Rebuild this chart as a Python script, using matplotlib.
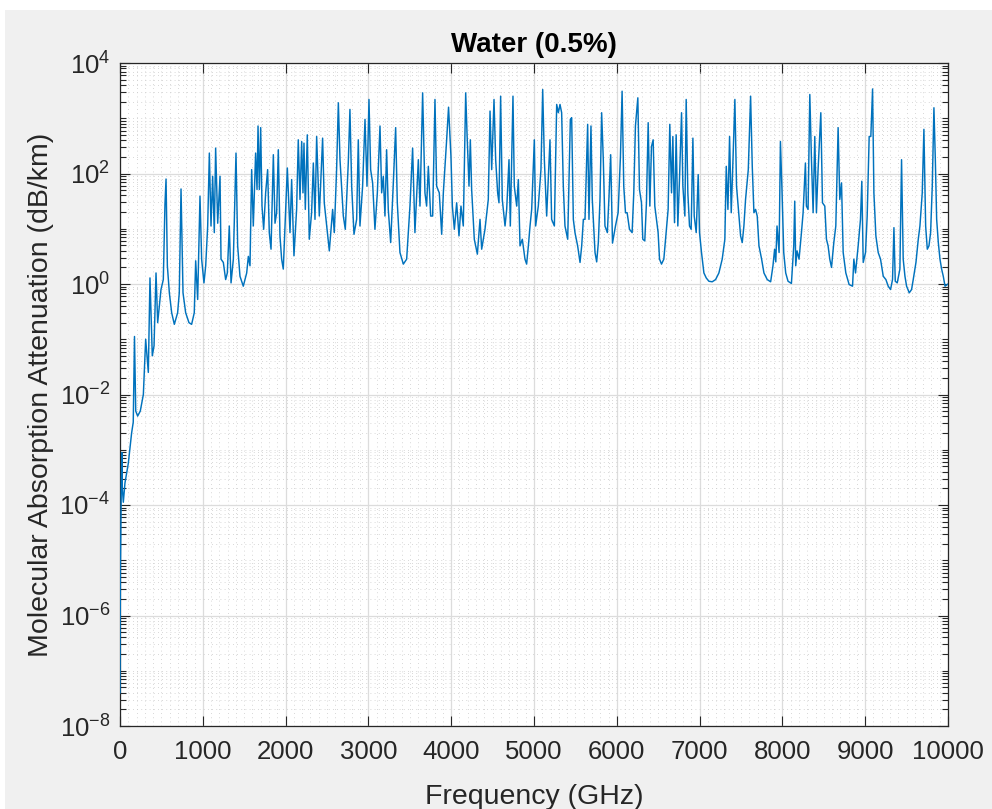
import numpy as np
import matplotlib
matplotlib.use("Agg")
import matplotlib.pyplot as plt
from matplotlib.ticker import FixedLocator, MultipleLocator, NullFormatter, FuncFormatter
from matplotlib.patches import Rectangle

# ---------------- data ----------------
spectrum = [
    (0.5, -7.4), (2, -6.3), (5, -5.2), (10, -4.4), (16, -3.6), (22, -3.05), (28, -3.7), (40, -3.95),
    (60, -3.6), (100, -3.25), (140, -2.7), (160, -2.5), (175, -0.95), (190, -2.3), (213, -2.39),
    (245, -2.3), (282, -2.0), (310, -1.0), (342, -1.6), (362, 0.11), (390, -1.3), (411, -1.12),
    (435, 0.2), (455, -0.7), (475, -0.4), (495, -0.1), (523, 0.08), (543, 1.44), (556, 1.9),
    (572, 0.33), (596, -0.16), (624, -0.52), (656, -0.73), (696, -0.52), (716, -0.16), (737, 1.72),
    (761, -0.16), (793, -0.52), (833, -0.7), (865, -0.73), (897, -0.52), (914, 0.42), (938, -0.28),
    (966, 1.59), (986, 0.45), (1014, 0.02), (1035, 0.33), (1059, 1.05), (1079, 2.37), (1099, 1.05),
    (1119, 1.95), (1139, 0.93), (1155, 2.46), (1180, 1.1), (1208, 1.95), (1220, 0.45), (1248, 0.39),
    (1276, 0.08), (1296, 0.2), (1320, 1.05), (1341, 0.02), (1369, 0.45), (1401, 2.37), (1421, 0.69),
    (1449, 0.14), (1489, -0.04), (1530, 0.2), (1550, 0.5), (1570, 0.33), (1590, 2.07), (1610, 1.05),
    (1638, 2.37), (1655, 1.71), (1667, 2.86), (1683, 1.71), (1699, 2.83), (1715, 1.41), (1735, 0.99),
    (1759, 1.65), (1783, 2.07), (1803, 0.93), (1824, 0.63), (1852, 2.34), (1872, 1.1), (1892, 1.29),
    (1912, 2.43), (1932, 0.87), (1952, 0.45), (1972, 0.27),
    (2021, 2.1), (2053, 0.93), (2073, 1.89), (2101, 0.51), (2133, 1.35), (2153, 2.61), (2174, 1.53),
    (2194, 2.58), (2210, 1.65), (2222, 2.55), (2238, 1.35), (2262, 2.7), (2286, 0.81), (2314, 1.29),
    (2335, 2.19), (2355, 1.17), (2375, 2.67), (2407, 1.23), (2447, 2.64), (2467, 1.47), (2496, 1.05),
    (2528, 0.6), (2568, 1.35), (2588, 0.93), (2616, 2.07), (2637, 3.28), (2657, 2.25), (2697, 1.23),
    (2721, 0.99), (2757, 2.19), (2777, 3.16), (2798, 1.77), (2826, 0.9), (2858, 1.17), (2878, 2.61),
    (2898, 1.05), (2930, 1.77), (2959, 2.98), (2983, 1.77), (3007, 3.34), (3027, 2.07), (3051, 1.83),
    (3079, 0.99), (3108, 1.65), (3140, 2.86), (3160, 1.65), (3180, 1.95), (3200, 1.23), (3220, 2.43),
    (3240, 1.35), (3269, 0.75), (3301, 1.83), (3329, 2.83), (3349, 1.47), (3381, 0.57), (3422, 0.36),
    (3462, 0.45), (3502, 1.41), (3534, 2.46), (3562, 0.93), (3603, 2.25), (3623, 1.41), (3655, 3.46),
    (3683, 1.65), (3703, 1.41), (3724, 2.13), (3752, 1.23), (3776, 1.23), (3804, 3.34), (3824, 1.77),
    (3856, 1.65), (3885, 0.9), (3905, 1.65), (3945, 2.61), (3968, 3.2),
    (3997, 2.31), (4014, 1.41), (4038, 0.99), (4066, 1.47), (4094, 0.87), (4118, 1.41), (4146, 1.05),
    (4175, 3.46), (4191, 2.73), (4215, 1.77), (4231, 2.61), (4247, 1.71), (4279, 0.81), (4316, 0.54),
    (4348, 1.17), (4368, 0.63), (4408, 0.99), (4448, 1.53), (4469, 3.13), (4489, 2.07), (4517, 3.34),
    (4537, 2.25), (4561, 1.65), (4577, 1.47), (4597, 3.4), (4617, 1.53), (4650, 1.05), (4670, 1.35),
    (4698, 2.25), (4714, 1.05), (4746, 3.4), (4762, 1.77), (4791, 1.41), (4811, 1.89), (4831, 0.69),
    (4859, 0.81), (4891, 0.45), (4911, 0.36), (4932, 0.69), (4952, 1.05), (4972, 1.35), (5004, 2.61),
    (5020, 1.05), (5052, 1.41), (5084, 2.07), (5105, 3.52), (5125, 2.25), (5153, 1.23), (5193, 2.61),
    (5213, 1.17), (5246, 1.05), (5274, 3.25), (5294, 3.1), (5314, 3.25), (5334, 3.1), (5354, 1.77),
    (5374, 1.05), (5407, 0.81), (5439, 2.98), (5455, 3.01), (5475, 1.17), (5495, 0.93), (5527, 0.69),
    (5556, 0.39), (5576, 0.69), (5596, 1.17), (5616, 1.17), (5648, 2.89), (5664, 1.17), (5688, 2.86),
    (5704, 1.53), (5737, 0.57), (5757, 0.4), (5777, 0.75), (5797, 1.53), (5817, 3.1), (5837, 2.25),
    (5857, 1.05), (5886, 0.93), (5906, 1.59), (5926, 2.34), (5948, 0.74),
    (5984, 1.05), (6016, 1.29), (6044, 2.31), (6064, 3.49), (6084, 1.77), (6105, 1.29), (6125, 1.29),
    (6153, 0.99), (6185, 0.93), (6205, 1.65), (6225, 2.86), (6254, 3.37), (6274, 1.71), (6298, 1.47),
    (6314, 0.81), (6338, 0.78), (6358, 1.47), (6379, 2.92), (6399, 1.41), (6419, 2.49), (6439, 2.61),
    (6459, 1.41), (6479, 1.17), (6499, 0.93), (6516, 0.45), (6540, 0.36), (6568, 0.45), (6596, 0.93),
    (6620, 1.35), (6640, 2.89), (6661, 1.65), (6677, 2.67), (6697, 1.11), (6717, 2.7), (6737, 1.05),
    (6757, 1.89), (6782, 3.1), (6798, 1.77), (6822, 1.23), (6838, 3.34), (6858, 1.65), (6878, 1.05),
    (6898, 0.99), (6919, 2.64), (6935, 1.23), (6959, 0.93), (6983, 1.98), (6999, 0.93), (7023, 0.57),
    (7052, 0.2), (7080, 0.11), (7112, 0.05), (7152, 0.04), (7193, 0.08), (7233, 0.2), (7273, 0.45),
    (7305, 0.81), (7322, 2.13), (7342, 1.35), (7362, 2.67), (7382, 1.29), (7402, 2.19), (7426, 3.34),
    (7446, 1.77), (7475, 1.23), (7495, 0.87), (7515, 0.75), (7535, 1.05), (7555, 1.53), (7588, 2.07),
    (7616, 3.4), (7636, 2.13), (7656, 1.29), (7676, 1.35), (7696, 1.23), (7717, 0.69), (7749, 0.45),
    (7777, 0.2), (7817, 0.08), (7858, 0.04), (7886, 0.33), (7906, 0.63),
    (7920, 0.4), (7935, 1.05), (7960, 0.57), (7976, 2.58), (7996, 1.65), (8016, 0.57), (8040, 0.2),
    (8068, 0.05), (8109, 0.01), (8137, 0.69), (8149, 1.5), (8161, 0.33), (8177, 0.6), (8201, 0.45),
    (8230, 0.93), (8250, 1.29), (8278, 2.19), (8290, 1.41), (8310, 1.35), (8331, 3.43), (8351, 2.25),
    (8371, 1.29), (8391, 2.67), (8411, 1.29), (8431, 2.07), (8464, 3.1), (8484, 1.47), (8512, 1.41),
    (8532, 0.81), (8552, 0.69), (8572, 0.45), (8593, 0.3), (8621, 0.75), (8645, 1.05), (8673, 2.83),
    (8693, 1.53), (8714, 1.83), (8734, 0.57), (8766, 0.2), (8806, -0.01), (8847, -0.04), (8863, 0.45),
    (8883, 0.2), (8915, 0.69), (8943, 1.17), (8959, 1.86), (8976, 0.39), (9004, 0.57), (9024, 1.23),
    (9048, 2.67), (9068, 2.67), (9089, 3.53), (9105, 1.65), (9129, 0.87), (9157, 0.57), (9185, 0.45),
    (9218, 0.14), (9250, 0.08), (9278, -0.04), (9306, -0.1), (9330, 0.08), (9347, 1.02), (9363, 0.05),
    (9387, 0.02), (9419, 0.27), (9439, 2.25), (9459, 0.45), (9480, 0.14), (9500, -0.04), (9532, -0.16),
    (9560, -0.1), (9580, 0.08), (9613, 0.39), (9641, 0.81), (9661, 1.05), (9689, 1.65), (9709, 2.8),
    (9730, 1.05), (9750, 0.63), (9770, 0.69), (9790, 0.93), (9810, 1.77), (9830, 3.19), (9847, 2.25),
    (9863, 1.17), (9883, 0.75), (9903, 0.45), (9923, 0.27), (9943, 0.14), (9964, -0.04), (10000, 0.0),
]
freq_ghz = [p[0] for p in spectrum]
log10_atten = [p[1] for p in spectrum]

x_ticks = [0, 1000, 2000, 3000, 4000, 5000, 6000, 7000, 8000, 9000, 10000]
y_tick_exponents = [-8, -6, -4, -2, 0, 2, 4]
title_text = "Water (0.5%)"
x_label = "Frequency (GHz)"
y_label = "Molecular Absorption Attenuation (dB/km)"

# ---------------- style ----------------
plt.rcParams["font.family"] = ["Liberation Sans", "DejaVu Sans"]
plt.rcParams["mathtext.fontset"] = "custom"
plt.rcParams["mathtext.rm"] = "Liberation Sans"
plt.rcParams["mathtext.it"] = "Liberation Sans:italic"
plt.rcParams["mathtext.bf"] = "Liberation Sans:bold"
plt.rcParams["axes.unicode_minus"] = False

TXT = "#262626"
W, H = 992, 809
fig = plt.figure(figsize=(W / 100, H / 100), dpi=100, facecolor="#f0f0f0")
# white strip from the page around the screenshot
fig.patches.append(Rectangle((0, 1 - 10 / H), 1, 10 / H, transform=fig.transFigure,
                             facecolor="white", edgecolor="none", zorder=-10))
fig.patches.append(Rectangle((0, 0), 5 / W, 1, transform=fig.transFigure,
                             facecolor="white", edgecolor="none", zorder=-10))

ax = fig.add_axes([120 / W, 1 - 726 / H, (948 - 120) / W, (726 - 63) / H])
ax.set_facecolor("white")

atten = 10.0 ** np.array(log10_atten)
ax.plot(freq_ghz, atten, color="#0072BD", lw=1.05, zorder=3)

ax.set_yscale("log")
ax.set_xlim(0, 10000)
ax.set_ylim(1e-8, 1e4)

ax.xaxis.set_major_locator(FixedLocator(x_ticks))
ax.xaxis.set_minor_locator(MultipleLocator(100))
ax.set_xticklabels([str(t) for t in x_ticks])

major_y = [10.0 ** e for e in y_tick_exponents]
minor_y = []
for e in range(-8, 4):
    for k in range(1, 10):
        v = k * 10.0 ** e
        if not (k == 1 and e in y_tick_exponents):
            minor_y.append(v)
ax.yaxis.set_major_locator(FixedLocator(major_y))
ax.yaxis.set_minor_locator(FixedLocator(minor_y))
ax.yaxis.set_major_formatter(FuncFormatter(
    lambda v, p: r"$\mathdefault{10^{%d}}$" % int(round(np.log10(v)))))
ax.yaxis.set_minor_formatter(NullFormatter())

ax.grid(True, which="major", color="#dcdcdc", lw=0.9, ls="-", zorder=0)
ax.grid(True, which="minor", color="#cbcbcb", lw=0.6, ls=(0, (1, 4)), zorder=0)
ax.set_axisbelow(True)

ax.tick_params(which="both", direction="in", top=True, right=True, colors=TXT,
               labelsize=18.5, width=0.8)
ax.tick_params(which="major", length=7)
ax.tick_params(which="minor", length=4)
ax.tick_params(axis="x", which="minor", length=0)
ax.tick_params(axis="x", pad=10)
ax.tick_params(axis="y", pad=7)
for s in ax.spines.values():
    s.set_color(TXT)
    s.set_linewidth(0.9)

ax.set_title(title_text, fontsize=20, fontweight="bold", color="black", pad=8)
ax.set_xlabel(x_label, fontsize=20.5, color=TXT)
ax.set_ylabel(y_label, fontsize=20.5, color=TXT)
ax.xaxis.set_label_coords(0.5, -(784 - 726) / (726 - 63))
ax.yaxis.set_label_coords(-(120 - 54) / (948 - 120), 0.5)

fig.savefig("out.png", dpi=100, facecolor=fig.get_facecolor())
